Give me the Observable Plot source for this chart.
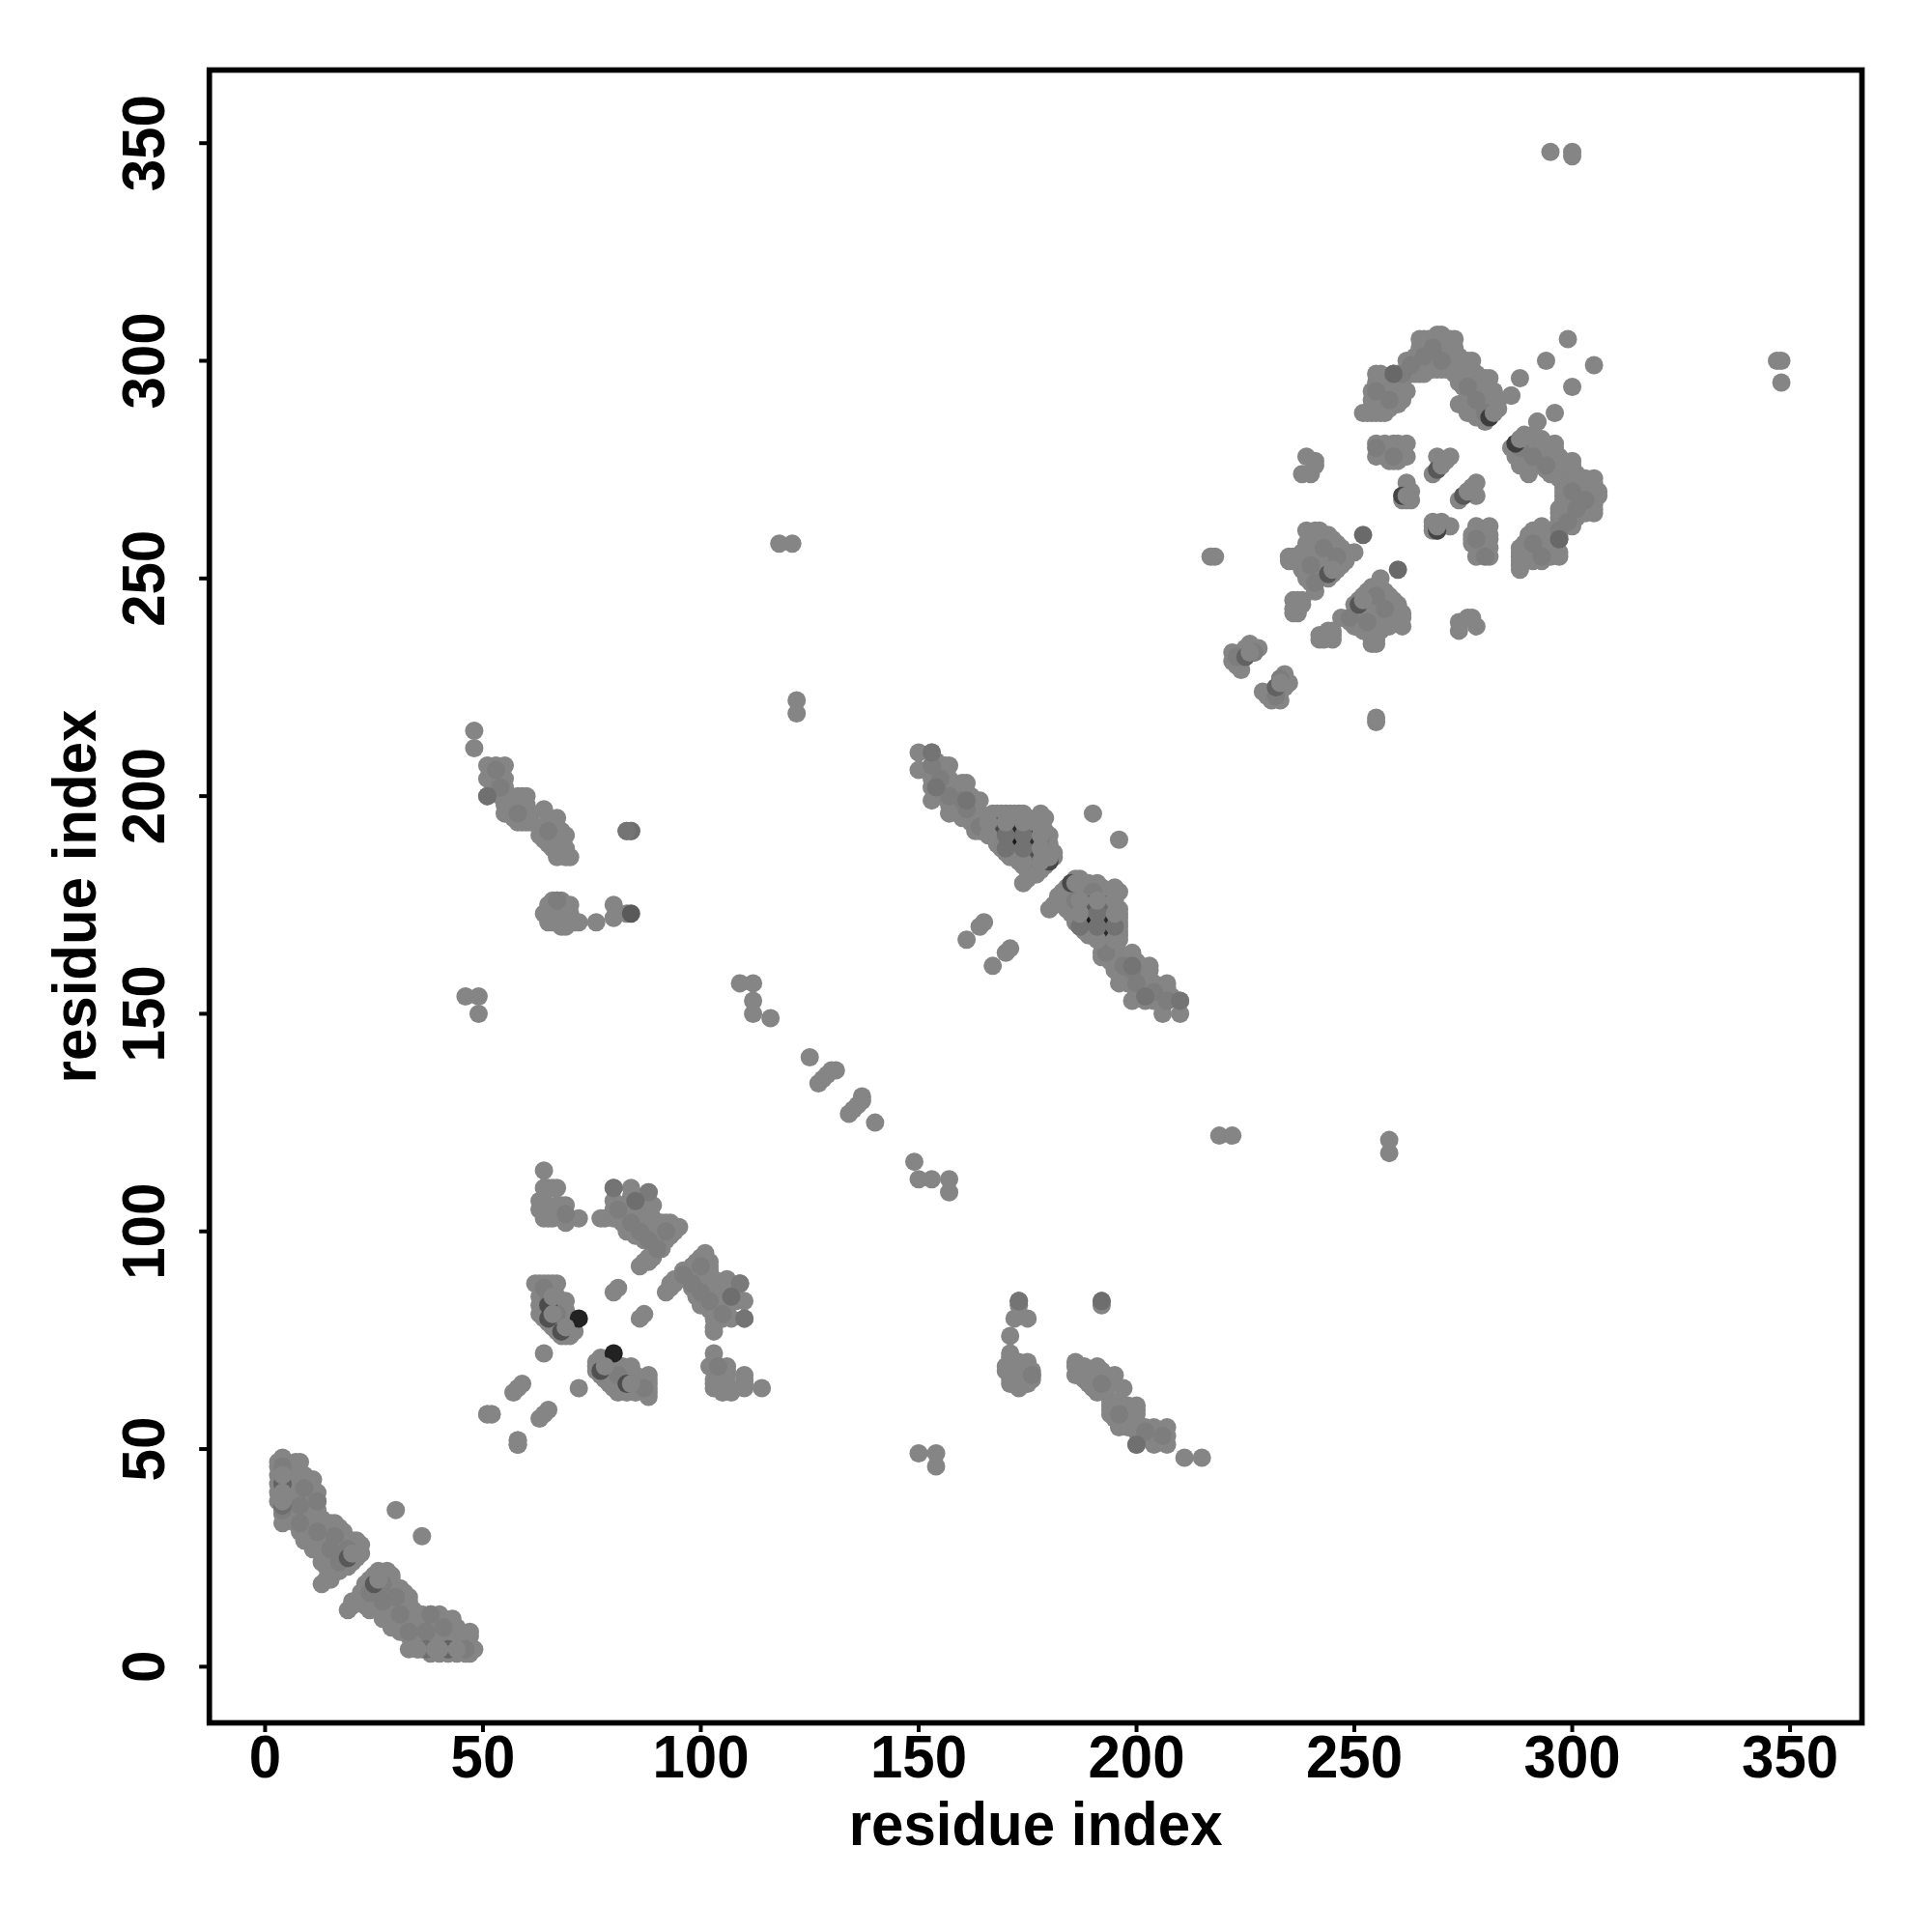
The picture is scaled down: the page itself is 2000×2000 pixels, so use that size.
<!DOCTYPE html>
<html>
<head>
<meta charset="utf-8">
<script src="https://cdn.jsdelivr.net/npm/d3@7"></script>
<script src="https://cdn.jsdelivr.net/npm/@observablehq/plot@0.6"></script>
<style>html,body{margin:0;padding:0;background:#fff}svg{display:block}</style>
</head>
<body>
<div id="chart"></div>
<script>
// Each entry: [residue i, [residues j in contact]] for the half with i < j; the map is symmetric.
const domainA = [
 [3,[38,40,42,44,46,47]],[4,[33,35,37,39,41,43,45,47,48]],[5,[37,39,41,43,45,46]],
 [7,[33,35,37,39,41,43,45,47]],[8,[31,33,35,37,39,41,43,47]],[9,[29,31,33,35,37,39,41,44]],
 [11,[27,29,31,33,35,37,39,41,43]],[12,[27,29,31,33,36,38,40]],[13,[19,24,26,28,30,32,34]],
 [14,[20,23,25,27,29,31,33]],[15,[20,23,25,27,29,31,33]],[16,[22,24,26,28,30,33]],
 [17,[22,24,26,28,30,32]],[18,[23,25,27,29,31]],[19,[23,25,27,29]],[20,[24,26,28,29]],
 [21,[25,27,29]],[22,[26,28]],[30,[36]]
];
const domainB = [
 [51,[58]],[52,[58]],[57,[63]],[58,[51,52,64]],[59,[65]],
 [62,[88]],[63,[81,83,85,88]],[64,[72,80,82,84,86,88]],[65,[79,81,84,86,88]],[66,[78,80,82,84,86,88]],
 [67,[77,79,81,83,85,88]],[68,[76,78,80,82]],[69,[76,78,80,82,84]],[70,[76,77,79]],[71,[77]],
 [80,[86]],[81,[87]]
];
const domainC = [
 [63,[105,107]],[64,[103,105,110,114]],[65,[103,106,110]],[66,[103,105,110]],[67,[104,106,110]],
 [68,[104,106]],[69,[102,104,106]],[72,[103]],[77,[103]],[78,[103]],
 [80,[103,105,107,110]],[81,[103,105]],[82,[102,104,106]],[83,[100,102,104,106]],
 [84,[100,102,104,106,108,110]],[85,[99,101,103,105]],[86,[92,99,101,103,105]],
 [87,[93,98,100,102,104]],[88,[93,94,98,100,102,104,106,109]],[89,[94,95,97,99,101,103,106]],
 [90,[96,98,100,102]],[91,[96,98,100,102]],[92,[98,100,102]],[93,[99,101,102]],[94,[100,101]],[95,[101]]
];
const domainD = [
 [48,[211,215]],[51,[200,204,207]],[52,[204,206]],[53,[202,204,207]],[54,[200,202,204]],
 [55,[196,198,200,202,204,207]],[56,[196,198,200]],[57,[195,197,199]],[58,[194,196,198,200]],
 [59,[194,196,198,200]],[60,[194,196,198,200]],[61,[194,196]],[63,[191]],[64,[190,193,197]],
 [65,[189,192,195]],[66,[188,191,194]],[67,[186,188,190,193,195]],[68,[187,190,192]],
 [69,[186,188,191]],[70,[186]],
 [64,[173]],[65,[171,173,175]],[66,[171,173,176]],[67,[171,173,175,176]],[68,[170,172,174,176]],
 [69,[170,172,174,175]],[70,[171,173,175]],[71,[171]],[72,[171]],[76,[171]],[80,[172,175]],
 [83,[173,192]],[84,[192]]
];
const domainE = [
 [150,[206,210]],[152,[206]],[153,[199,202,204,207,210]],[154,[202,204,206,208]],[155,[200,202,204,206]],
 [156,[200,202,204,207]],[157,[196,198,200,202,204,207]],[158,[197,199,201,203]],[159,[196,198,200,202]],
 [160,[195,197,199,201,203]],[161,[167,195,197,199,201,203]],[162,[194,196,198,200]],[163,[192,194,196,198]],
 [164,[170,192,194,196,199]],[165,[171,193,195]],[166,[193,195]],[167,[191,193,196]],[168,[189,191,193,196]],
 [169,[188,190,192,194,196]],[170,[187,189,191,193,196]],[171,[186,188,190,192,194,196]],
 [172,[186,188,190,192,194,196]],[173,[185,187,189,191,193,196]],[174,[180,184,186,188,190,192,194,196]],
 [175,[181,183,185,187,189,191,193,195]],[176,[182,184,186,188,190,192,194]],[177,[182,184,186,188,190,192,194]],
 [178,[183,185,187,189,191,193,196]],[179,[184,186,188,190,192,195]],[180,[185,187,189,191]],[181,[186,187]],
 [190,[196]]
];
const domainF = [
 [222,[231,233]],[223,[230,232]],[224,[229,231,233]],[225,[232,234]],[226,[233,235]],[227,[233,234]],[228,[234]],
 [235,[254,255]],[236,[242,243,245,254,255]],[237,[242,245,254]],[238,[244,245,252,254,256,274]],
 [239,[250,252,254,256,258,261,278]],[240,[249,251,253,255,257,259,274]],[241,[247,249,251,253,255,257,259,261,276,277]],
 [242,[250,252,254,256,258,261]],[243,[251,253,255,257,259]],[244,[250,252,254,256,258,260]],
 [245,[251,253,255,257,259]],[246,[252,254,256,258]],[247,[253,255,257]],[248,[254,255,256]],[250,[256]],
 [217,[255]],[218,[255]]
];
const domainG = [
 [252,[288]],[253,[288]],[254,[288,291,293]],[255,[278,281,288,290,293,295,297]],[256,[288,291,293,295,297]],
 [257,[278,281,288,290,292,293]],[258,[277,280,289,291,293]],[259,[277,281,290,292,295,297]],
 [260,[277,279,281,290,292,294,297]],[261,[268,269,291,293,295]],[262,[268,270,272,278,281,293,297,300]],
 [263,[268,270,297,299,300]],[264,[297,299,301]],[265,[297,299,301,303,305]],[266,[297,299,301,303,305]],
 [267,[298,300,302,304,305]],[268,[274,298,300,302,304]],[269,[275,278,298,300,302,304,306]],
 [270,[276,277,298,300,302,304,306]],[271,[277,298,301,303,305]],[272,[278,299,301,303,305]],
 [273,[297,299,301,303,305]],[274,[290,295,297,299,301]],[275,[290,294,296,298,300]],
 [276,[288,292,294,296,298,300]],[277,[290,292,294,296,298,300]],[278,[287,289,291,293,295,297]],
 [279,[287,289,291,293,295]],[280,[286,288,290,292,294,296]],[281,[287,289,291,293,296]],[282,[288,290,293]],
 [283,[289,291]],[286,[292]],[288,[296]],[292,[286]],[294,[300]],[299,[305]]
];
const longRange = [
 [46,[154]],[49,[150,154]],[109,[157]],[112,[150,153,157]],[116,[149]],[118,[258]],[121,[258]],[122,[219,222]],
 [125,[140]],[127,[134]],[128,[135]],[129,[136]],[130,[137]],[131,[137]],
 [295,[348]],[300,[347,348]]
];
// Slightly darker contacts inside the dense patches (listed once, i < j, both halves are drawn).
const mottleI = [4,4,8,8,12,12,15,17,19,16,4,9,
 65,67,64,69,84,86,88,90,92,81,
 54,58,65,53,67,
 155,153,161,157,164,160,176,178,
 240,243,241,246,223,227,
 255,258,261,266,270,276,278,280,255,259,263,268];
const mottleJ = [42,36,37,33,31,38,27,24,27,30,46,41,
 84,81,87,104,102,100,98,96,100,105,
 202,196,192,206,176,
 204,207,197,200,193,199,186,190,
 253,257,249,255,232,233,
 293,291,297,301,300,294,291,288,280,278,299,303];
// Darker contacts, drawn over the base dots: residue i, residue j, grey.
const shadeI = [4,42,4,37,19,25,65,65,83,77,68,180,185,281,287,261,269,269,275,244,251,225,232,
 168,172,172,176,176, 189,193,189,193,193,
 252,260,259,297,110,80,109,88,84,192,84,173,83,173,72,80,51,200,153,210,161,199,154,202,85,107];
const shadeJ = [42,4,37,4,25,19,83,80,65,68,77,185,180,287,281,269,261,275,269,251,244,232,225,
 193,192,190,190,187, 172,172,175,175,169,
 260,252,297,259,80,110,88,109,192,84,173,84,192,84,80,72,200,51,210,153,199,161,202,154,107,85];
const shadeTone = ["#626262","#626262","#6e6e6e","#6e6e6e","#585858","#585858","#4c4c4c","#505050","#4c4c4c","#505050","#505050","#484848","#484848","#3c3c3c","#3c3c3c","#444444","#444444","#585858","#585858","#555555","#555555","#626262","#626262",
 "#4a4a4a","#2a2a2a","#181818","#303030","#505050", "#181818","#2a2a2a","#5a5a5a","#6a6a6a","#2a2a2a",
 "#6a6a6a","#6a6a6a","#686868","#686868","#747474","#747474","#7a7a7a","#7a7a7a","#6e6e6e","#6e6e6e","#5a5a5a","#5a5a5a","#747474","#747474","#222222","#222222","#707070","#707070","#747474","#747474","#747474","#747474","#747474","#747474","#6e6e6e","#6e6e6e"];
// Lighter contacts that lie on top of the darker ones.
const coverI = [4,4,44,40,4,39,35,20,26,66,66,84,78,69,180,186,282,288,262,269,270,276,245,252,226,233,
 166,166,170,170,170,174,174,174,174,178,178,178,
 187,187,187,191,191,191,191,195,195,195,195];
const coverJ = [44,40,4,4,38,4,4,26,20,85,81,65,69,78,186,180,288,282,269,262,276,270,252,245,233,226,
 191,194,188,191,194,185,188,191,194,185,188,191,
 170,173,176,167,170,173,176,167,170,173,176];
// Covers 170/191, 174/188, 191/170 and 191/173 sit in the darkest cores and take a deeper grey.
const deepCoverI = [170,174,170,174,191,191,187,195];
const deepCoverJ = [191,188,188,191,170,173,170,170];

const baseGrey = "#858585";
const mottleGrey = "#7d7d7d";
const deepGrey = "#727272";
const rSize = 9.5;
const tickFont = 63.5;
const readFont = 60;
const ticks = [0,50,100,150,200,250,300,350];

const halfColumns = [domainA,domainB,domainC,domainD,domainE,domainF,domainG,longRange];
const base = [];
for (const cluster of halfColumns) for (const [i, js] of cluster) for (const j of js) {
  base.push({x:i,y:j,tone:baseGrey},{x:j,y:i,tone:baseGrey});
}
const mottle = mottleI.flatMap((i,k)=>[{x:i,y:mottleJ[k],tone:mottleGrey},{x:mottleJ[k],y:i,tone:mottleGrey}]);
const shades = shadeI.map((x,k)=>({x,y:shadeJ[k],tone:shadeTone[k]}));
const covers = coverI.map((x,k)=>({x,y:coverJ[k],
  tone:deepCoverI.some((d,m)=>d===x&&deepCoverJ[m]===coverJ[k])?deepGrey:baseGrey}));
const rows = [...base,...mottle,...shades,...covers];

const chart = Plot.plot({
  width:2000, height:2000,
  marginLeft:216.2, marginRight:73, marginTop:72, marginBottom:217,
  style:{fontFamily:"'Liberation Sans',Arial,sans-serif",fontWeight:"bold",background:"#fff",color:"#000"},
  x:{domain:[-12.8,366.5]},
  y:{domain:[-12.9,366.8]},
  marks:[
    Plot.dot(rows,{x:"x",y:"y",r:rSize,fill:d=>d.tone,stroke:"none"}),
    Plot.frame({stroke:"#000",strokeWidth:5.7}),
    Plot.axisX({anchor:"bottom",ticks,tickSize:10,tickPadding:1,fontSize:tickFont,strokeWidth:4,tickFormat:d=>String(d),
      label:"residue index",labelAnchor:"center",labelArrow:"none",labelOffset:126}),
    Plot.axisY({anchor:"left",ticks,tickSize:10,tickPadding:37,fontSize:tickFont,strokeWidth:4,tickRotate:-90,textAnchor:"middle",tickFormat:d=>String(d),
      label:"residue index",labelAnchor:"center",labelArrow:"none",labelOffset:163})
  ]
});
document.getElementById("chart").appendChild(chart);
// The reference's bold type is slightly condensed: keep the taller glyphs at the narrower width.
d3.select(chart).selectAll("text").each(function(){
  const len = this.getComputedTextLength();
  this.setAttribute("textLength", (len*readFont/tickFont).toFixed(1));
  this.setAttribute("lengthAdjust","spacingAndGlyphs");
});
</script>
</body>
</html>
